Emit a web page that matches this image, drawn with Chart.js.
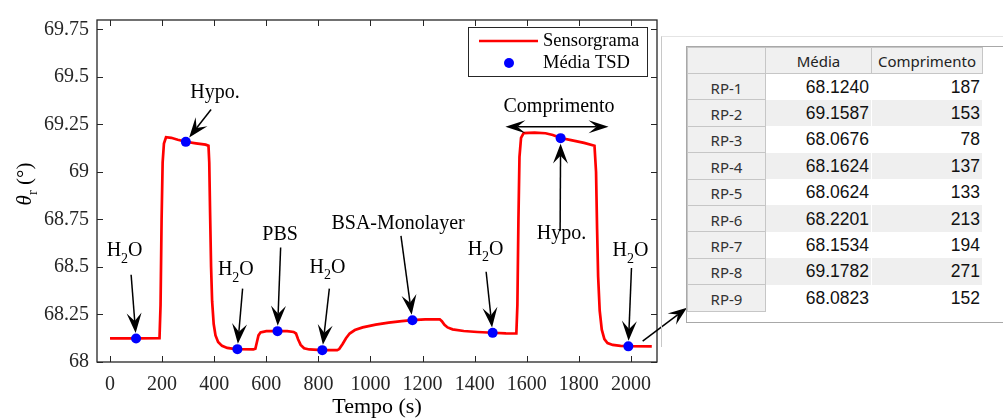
<!DOCTYPE html>
<html>
<head>
<meta charset="utf-8">
<script src="https://cdn.jsdelivr.net/npm/chart.js@4.4.0/dist/chart.umd.min.js"></script>
<style>
  html, body { margin: 0; padding: 0; background: #fff; }
  #wrap { position: relative; width: 1003px; height: 419px; overflow: hidden; }
  #chart { position: absolute; left: 0; top: 0; }
  #panel { position: absolute; left: 661px; top: 36px; width: 400px; height: 310px;
           border-left: 1px solid #c8c8c8; border-top: 1px solid #e4e4e4; }
  #grid { position: absolute; left: 686px; top: 46px; width: 400px; height: 275px;
          border: 1px solid #a8a8a8; background: #fff; overflow: hidden; }
  #tbl { border-collapse: collapse; table-layout: fixed; margin: 0; }
  #tbl th { background: #f0f0f0; border: 1px solid #c6c6c6; font: 15px/18px "Noto Sans", sans-serif;
            color: #333; font-weight: normal; padding: 0; text-align: center; }
  #tbl thead tr { height: 26px; }
  #tbl thead th { color: #222; }
  #tbl tbody tr { height: 26.4px; }
  #tbl tbody th { padding-top: 2px; }
  #tbl td { font: 17.5px/18px "Liberation Sans", Arial, sans-serif; color: #111; text-align: right;
            padding: 0 2px 0 0; border-right: 1px solid #fff; }
  #tbl tbody tr:nth-child(even) td { background: #efefef; }
</style>
</head>
<body>
<div id="wrap">
  <canvas id="chart" width="1003" height="419"></canvas>
  <div id="panel"></div>
  <div id="grid"><table id="tbl"></table></div>
</div>
<script>
// sensorgram trace
const timeS = [0, 100, 190, 194, 198, 202, 207, 215, 235, 260, 291, 330, 367, 378, 381, 384, 388, 392, 398, 405,
  415, 430, 450, 475, 500, 550, 558, 564, 570, 578, 600, 643, 680, 705, 714, 722, 732, 745, 765, 815,
  872, 880, 893, 906, 920, 940, 970, 1020, 1070, 1120, 1160, 1210, 1266, 1274, 1284, 1296, 1315, 1358, 1410, 1469,
  1520, 1560, 1564, 1568, 1572, 1578, 1588, 1630, 1672, 1700, 1730, 1770, 1820, 1860, 1866, 1870, 1874, 1880, 1888, 1898,
  1910, 1930, 1960, 1990, 2080];
const thetaR = [68.124, 68.124, 68.125, 68.30, 68.75, 69.05, 69.15, 69.183, 69.180, 69.170, 69.159, 69.151, 69.144, 69.138, 69.05, 68.80, 68.50, 68.32, 68.20, 68.14,
  68.105, 68.085, 68.074, 68.069, 68.067, 68.066, 68.070, 68.105, 68.140, 68.156, 68.162, 68.163, 68.162, 68.158, 68.150, 68.120, 68.090, 68.072, 68.066, 68.063,
  68.062, 68.068, 68.095, 68.125, 68.150, 68.168, 68.182, 68.197, 68.207, 68.215, 68.220, 68.224, 68.225, 68.215, 68.196, 68.182, 68.172, 68.163, 68.158, 68.154,
  68.151, 68.150, 68.30, 68.75, 69.08, 69.18, 69.205, 69.207, 69.204, 69.195, 69.179, 69.168, 69.153, 69.138, 69.00, 68.70, 68.45, 68.27, 68.17, 68.12,
  68.100, 68.090, 68.085, 68.083, 68.082];

// regions (table + blue dots)
const rpNames = ["RP-1", "RP-2", "RP-3", "RP-4", "RP-5", "RP-6", "RP-7", "RP-8", "RP-9"];
const rpTime = [100, 291, 489, 643, 815, 1161, 1469, 1730, 1990];
const rpMedia = [68.1240, 69.1587, 68.0676, 68.1624, 68.0624, 68.2201, 68.1534, 69.1782, 68.0823];
const rpComprimento = [187, 153, 78, 137, 133, 213, 194, 271, 152];
const tableCols = ["Média", "Comprimento"];

const xTicks = [0, 200, 400, 600, 800, 1000, 1200, 1400, 1600, 1800, 2000];
const yTicks = [68, 68.25, 68.5, 68.75, 69, 69.25, 69.5, 69.75];
const yTickLabels = ["68", "68.25", "68.5", "68.75", "69", "69.25", "69.5", "69.75"];

const seriesNames = ["Sensorgrama", "Média TSD"];

// annotations in data units: text anchor (center, baseline), arrow start, target region
const pointers = [
  { text: "H2O", at: [56, 68.557], from: [81, 68.459], rp: 0 },
  { text: "Hypo.", at: [403, 69.387], from: [388, 69.329], rp: 1 },
  { text: "H2O", at: [483, 68.458], from: [509, 68.386], rp: 2 },
  { text: "PBS", at: [653, 68.643], from: [655, 68.603], rp: 3 },
  { text: "H2O", at: [835, 68.471], from: [842, 68.386], rp: 4 },
  { text: "BSA-Monolayer", at: [1106, 68.698], from: [1117, 68.664], rp: 5 },
  { text: "H2O", at: [1442, 68.564], from: [1444, 68.475], rp: 6 },
  { text: "Hypo.", at: [1733, 68.646], from: [1728, 68.69], rp: 7 },
  { text: "H2O", at: [1998, 68.557], from: [2002, 68.495], rp: 8 },
];
const spanLabel = { text: "Comprimento", at: [1724, 69.318], from: [1518, 69.2377], to: [1914, 69.2377] };
const tableArrow = { from: [2045, 68.1096], to: [2215, 68.286] };

const SERIF = '"Liberation Serif", "Times New Roman", serif';
const INK = "#262626";

// table
(function buildTable() {
  let html = "<colgroup><col style='width:78px'><col style='width:106px'><col style='width:111px'></colgroup>";
  html += "<thead><tr><th></th>" + tableCols.map((c) => `<th>${c}</th>`).join("") + "</tr></thead><tbody>";
  rpNames.forEach((n, i) => {
    html += `<tr><th>${n}</th><td>${rpMedia[i].toFixed(4)}</td><td>${rpComprimento[i]}</td></tr>`;
  });
  html += "</tbody>";
  document.getElementById("tbl").innerHTML = html;
})();

function arrowHead(ctx, x1, y1, x2, y2, L, W) {
  const a = Math.atan2(y2 - y1, x2 - x1);
  const ux = Math.cos(a), uy = Math.sin(a);
  const bx = x2 - ux * L, by = y2 - uy * L;
  const nx = x2 - ux * L * 0.6, ny = y2 - uy * L * 0.6;
  ctx.beginPath();
  ctx.moveTo(x2, y2);
  ctx.lineTo(bx - uy * W / 2, by + ux * W / 2);
  ctx.lineTo(nx, ny);
  ctx.lineTo(bx + uy * W / 2, by - ux * W / 2);
  ctx.closePath();
  ctx.fill();
  return [nx, ny];
}

function arrow(ctx, x1, y1, x2, y2, L, W) {
  ctx.save();
  ctx.strokeStyle = "#000";
  ctx.fillStyle = "#000";
  ctx.lineWidth = 1.5;
  const n = arrowHead(ctx, x1, y1, x2, y2, L, W);
  ctx.beginPath();
  ctx.moveTo(x1, y1);
  ctx.lineTo(n[0], n[1]);
  ctx.stroke();
  ctx.restore();
}

function labelText(ctx, text, cx, base, size) {
  ctx.save();
  ctx.fillStyle = "#000";
  ctx.textBaseline = "alphabetic";
  ctx.textAlign = "left";
  if (text === "H2O") {
    const big = `${size}px ${SERIF}`, small = `${size * 0.7}px ${SERIF}`;
    ctx.font = big; const wH = ctx.measureText("H").width, wO = ctx.measureText("O").width;
    ctx.font = small; const w2 = ctx.measureText("2").width;
    let x = cx - (wH + w2 + wO) / 2;
    ctx.font = big; ctx.fillText("H", x, base); x += wH;
    ctx.font = small; ctx.fillText("2", x, base + size * 0.33); x += w2;
    ctx.font = big; ctx.fillText("O", x, base);
  } else {
    ctx.font = `${size}px ${SERIF}`;
    ctx.textAlign = "center";
    ctx.fillText(text, cx, base);
  }
  ctx.restore();
}

const decor = {
  id: "decor",
  afterDraw(chart) {
    const { ctx, chartArea: a, scales } = chart;
    const X = (v) => scales.x.getPixelForValue(v);
    const Y = (v) => scales.y.getPixelForValue(v);

    // box and inward ticks on all sides
    ctx.save();
    ctx.strokeStyle = INK;
    ctx.lineWidth = 1.3;
    ctx.strokeRect(a.left, a.top, a.right - a.left, a.bottom - a.top);
    ctx.lineWidth = 1;
    ctx.beginPath();
    xTicks.forEach((v) => {
      const px = Math.round(X(v)) + 0.5;
      ctx.moveTo(px, a.bottom); ctx.lineTo(px, a.bottom - 6);
      ctx.moveTo(px, a.top); ctx.lineTo(px, a.top + 6);
    });
    yTicks.forEach((v) => {
      const py = Math.round(Y(v)) + 0.5;
      ctx.moveTo(a.left, py); ctx.lineTo(a.left + 6, py);
      ctx.moveTo(a.right, py); ctx.lineTo(a.right - 6, py);
    });
    ctx.stroke();
    ctx.restore();

    // pointer annotations
    pointers.forEach((p) => {
      labelText(ctx, p.text, X(p.at[0]), Y(p.at[1]), 20);
      const x1 = X(p.from[0]), y1 = Y(p.from[1]);
      const tx = X(rpTime[p.rp]), ty = Y(rpMedia[p.rp]);
      const d = Math.hypot(tx - x1, ty - y1);
      const s = (d - 5.5) / d;
      arrow(ctx, x1, y1, x1 + (tx - x1) * s, y1 + (ty - y1) * s, 20, 15);
    });

    // span arrow
    labelText(ctx, spanLabel.text, X(spanLabel.at[0]), Y(spanLabel.at[1]), 20);
    const sx1 = X(spanLabel.from[0]), sx2 = X(spanLabel.to[0]), sy = Y(spanLabel.from[1]);
    const mid = (sx1 + sx2) / 2;
    arrow(ctx, mid, sy, sx1, sy, 20, 13);
    arrow(ctx, mid, sy, sx2, sy, 20, 13);

    // arrow to the table
    arrow(ctx, X(tableArrow.from[0]), Y(tableArrow.from[1]), X(tableArrow.to[0]), Y(tableArrow.to[1]), 19, 14);

    // legend
    const lx = 468, ly = 27, lw = 179, lh = 49;
    ctx.save();
    ctx.fillStyle = "#fff";
    ctx.fillRect(lx, ly, lw, lh);
    ctx.strokeStyle = INK;
    ctx.lineWidth = 1;
    ctx.strokeRect(lx + 0.5, ly + 0.5, lw, lh);
    const ds = chart.data.datasets;
    ctx.strokeStyle = ds[1].borderColor;
    ctx.lineWidth = ds[1].borderWidth;
    ctx.beginPath(); ctx.moveTo(479, 41); ctx.lineTo(538, 41); ctx.stroke();
    ctx.fillStyle = ds[0].backgroundColor;
    ctx.beginPath(); ctx.arc(509, 63, 5, 0, Math.PI * 2); ctx.fill();
    ctx.fillStyle = "#000";
    ctx.font = `18.5px ${SERIF}`;
    ctx.textBaseline = "middle";
    ctx.fillText(ds[1].label, 543, 41);
    ctx.fillText(ds[0].label, 543, 63);
    ctx.restore();

    // axis titles
    ctx.save();
    ctx.fillStyle = "#000";
    ctx.font = `22px ${SERIF}`;
    ctx.textAlign = "center";
    ctx.textBaseline = "alphabetic";
    ctx.fillText("Tempo (s)", (a.left + a.right) / 2, 413);
    ctx.translate(31, (a.top + a.bottom) / 2 - 7);
    ctx.rotate(-Math.PI / 2);
    ctx.textAlign = "left";
    const f = 21;
    ctx.font = `italic ${f}px ${SERIF}`; const wT = ctx.measureText("θ").width;
    ctx.font = `${f * 0.7}px ${SERIF}`; const wr = ctx.measureText("r").width;
    ctx.font = `${f}px ${SERIF}`; const wp = ctx.measureText(" (°)").width;
    let x = -(wT + wr + wp) / 2;
    ctx.font = `italic ${f}px ${SERIF}`; ctx.fillText("θ", x, 0); x += wT;
    ctx.font = `${f * 0.7}px ${SERIF}`; ctx.fillText("r", x, f * 0.3); x += wr;
    ctx.font = `${f}px ${SERIF}`; ctx.fillText(" (°)", x, 0);
    ctx.restore();
  },
};

new Chart(document.getElementById("chart"), {
  data: {
    datasets: [
      {
        type: "scatter",
        label: seriesNames[1],
        data: rpTime.map((t, i) => ({ x: t, y: rpMedia[i] })),
        pointRadius: 5,
        pointBorderWidth: 0,
        backgroundColor: "#0000ff",
        borderColor: "#0000ff",
        order: 1,
      },
      {
        type: "line",
        label: seriesNames[0],
        data: timeS.map((t, i) => ({ x: t, y: thetaR[i] })),
        borderColor: "#ff0000",
        borderWidth: 2.7,
        pointRadius: 0,
        tension: 0,
        fill: false,
        order: 2,
      },
    ],
  },
  options: {
    responsive: false,
    animation: false,
    devicePixelRatio: 1,
    layout: { padding: { left: 0, top: 12, right: 1003 - 657, bottom: 0 } },
    plugins: { legend: { display: false }, tooltip: { enabled: false }, title: { display: false } },
    scales: {
      x: {
        type: "linear",
        min: -50,
        max: 2100,
        grid: { display: false, drawTicks: false },
        border: { display: false },
        afterBuildTicks: (s) => { s.ticks = xTicks.map((v) => ({ value: v })); },
        afterFit: (s) => { s.height = 57; },
        ticks: {
          autoSkip: false,
          maxRotation: 0,
          padding: 11,
          color: "#262626",
          font: { family: SERIF, size: 20 },
          callback: (v) => String(v),
        },
      },
      y: {
        type: "linear",
        min: 68,
        max: 69.8,
        grid: { display: false, drawTicks: false },
        border: { display: false },
        afterBuildTicks: (s) => { s.ticks = yTicks.map((v) => ({ value: v })); },
        afterFit: (s) => { s.width = 97; },
        ticks: {
          autoSkip: false,
          padding: 8,
          color: "#262626",
          font: { family: SERIF, size: 20 },
          callback: (v, i) => yTickLabels[i],
        },
      },
    },
  },
  plugins: [decor],
});
</script>
</body>
</html>
